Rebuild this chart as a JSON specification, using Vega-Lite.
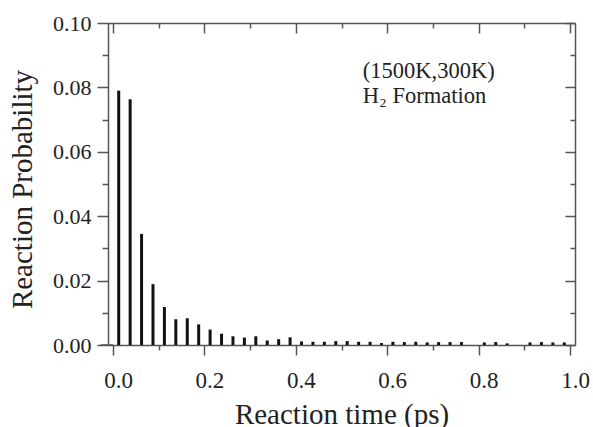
{
  "$schema": "https://vega.github.io/schema/vega-lite/v6.json",
  "width": 467,
  "height": 322,
  "autosize": {"type": "none"},
  "padding": {"left": 108, "top": 23, "right": 18, "bottom": 82},
  "background": "white",
  "config": {"view": {"stroke": null}, "font": "Liberation Serif"},
  "datasets": {
    "bars": [
      {"t": 0.0125, "p": 0.0790}, {"t": 0.0375, "p": 0.0763}, {"t": 0.0625, "p": 0.0345}, {"t": 0.0875, "p": 0.0189},
      {"t": 0.1125, "p": 0.0118}, {"t": 0.1375, "p": 0.0080}, {"t": 0.1625, "p": 0.0083}, {"t": 0.1875, "p": 0.0064},
      {"t": 0.2125, "p": 0.0048}, {"t": 0.2375, "p": 0.0035}, {"t": 0.2625, "p": 0.0027}, {"t": 0.2875, "p": 0.0023},
      {"t": 0.3125, "p": 0.0027}, {"t": 0.3375, "p": 0.0014}, {"t": 0.3625, "p": 0.0018}, {"t": 0.3875, "p": 0.0024},
      {"t": 0.4125, "p": 0.0011}, {"t": 0.4375, "p": 0.0010}, {"t": 0.4625, "p": 0.0010}, {"t": 0.4875, "p": 0.0012},
      {"t": 0.5125, "p": 0.0012}, {"t": 0.5375, "p": 0.0010}, {"t": 0.5625, "p": 0.0010}, {"t": 0.5875, "p": 0.0006},
      {"t": 0.6125, "p": 0.0010}, {"t": 0.6375, "p": 0.0009}, {"t": 0.6625, "p": 0.0010}, {"t": 0.6875, "p": 0.0008},
      {"t": 0.7125, "p": 0.0009}, {"t": 0.7375, "p": 0.0009}, {"t": 0.7625, "p": 0.0009}, {"t": 0.7875, "p": 0.0},
      {"t": 0.8125, "p": 0.0008}, {"t": 0.8375, "p": 0.0009}, {"t": 0.8625, "p": 0.0005}, {"t": 0.8875, "p": 0.0},
      {"t": 0.9125, "p": 0.0008}, {"t": 0.9375, "p": 0.0009}, {"t": 0.9625, "p": 0.0008}, {"t": 0.9875, "p": 0.0008}
    ],
    "notes": [
      {"t": 0.5467, "p": 0.0828, "label": "(1500K,300K)"},
      {"t": 0.5467, "p": 0.0751, "label": "H₂ Formation"}
    ]
  },
  "layer": [
    {
      "data": {"name": "bars"},
      "mark": {"type": "bar", "size": 3, "color": "#111"},
      "encoding": {
        "x": {
          "field": "t", "type": "quantitative",
          "scale": {"domain": [0, 1], "nice": false, "zero": false},
          "axis": {
            "orient": "bottom",
            "title": "Reaction time (ps)",
            "values": [0, 0.1, 0.2, 0.3, 0.4, 0.5, 0.6, 0.7, 0.8, 0.9, 1.0],
            "labelExpr": "(round(datum.value*10) % 2 == 0) ? format(datum.value, '.1f') : ''",
            "tickSize": {"condition": {"test": "round(datum.value*10) % 2 != 0", "value": 5}, "value": 10},
            "tickWidth": 1.5, "tickColor": "#555",
            "domainColor": "#555", "domainWidth": 1.5,
            "labelFont": "Liberation Serif", "labelFontSize": 23, "labelColor": "#222",
            "labelPadding": 14, "labelFlush": false, "labelOverlap": false, "labelOffset": 5,
            "titleFont": "Liberation Serif", "titleFontSize": 29, "titleFontWeight": "normal", "titleColor": "#222",
            "titleBaseline": "alphabetic", "titleY": 78, "grid": false
          }
        },
        "y": {
          "field": "p", "type": "quantitative",
          "scale": {"domain": [0, 0.1], "nice": false},
          "axis": {
            "orient": "left",
            "title": "Reaction Probability",
            "values": [0, 0.01, 0.02, 0.03, 0.04, 0.05, 0.06, 0.07, 0.08, 0.09, 0.1],
            "labelExpr": "(round(datum.value*100) % 2 == 0) ? format(datum.value, '.2f') : ''",
            "tickSize": {"condition": {"test": "round(datum.value*100) % 2 != 0", "value": 6}, "value": 11},
            "tickWidth": 1.5, "tickColor": "#555",
            "domainColor": "#555", "domainWidth": 1.5,
            "labelFont": "Liberation Serif", "labelFontSize": 22, "labelColor": "#222",
            "labelPadding": 6, "labelOverlap": false,
            "titleFont": "Liberation Serif", "titleFontSize": 29, "titleFontWeight": "normal", "titleColor": "#222",
            "titleAngle": 270, "titleBaseline": "alphabetic", "titleAlign": "center", "titleX": -77, "titleY": 166,
            "grid": false
          }
        }
      }
    },
    {
      "data": {"values": [{"a": -0.027, "b": 0, "y": 0}]},
      "mark": {"type": "rule", "color": "#555", "strokeWidth": 1.5},
      "encoding": {
        "x": {"field": "a", "type": "quantitative", "axis": null},
        "x2": {"field": "b"},
        "y": {"field": "y", "type": "quantitative", "axis": null}
      }
    },
    {
      "data": {"name": "notes"},
      "mark": {"type": "text", "align": "left", "baseline": "alphabetic", "font": "Liberation Serif", "fontSize": 22.5, "color": "#222"},
      "encoding": {
        "x": {"field": "t", "type": "quantitative", "axis": null},
        "y": {"field": "p", "type": "quantitative", "axis": null},
        "text": {"field": "label"}
      }
    },
    {
      "data": {"name": "bars"},
      "mark": {"type": "point", "opacity": 0},
      "encoding": {
        "x": {
          "field": "t", "type": "quantitative",
          "axis": {
            "orient": "top", "title": null, "labels": false,
            "values": [0, 0.1, 0.2, 0.3, 0.4, 0.5, 0.6, 0.7, 0.8, 0.9, 1.0],
            "tickSize": {"condition": {"test": "round(datum.value*10) % 2 != 0", "value": -5}, "value": -10},
            "tickWidth": 1.5, "tickColor": "#555",
            "domainColor": "#555", "domainWidth": 1.5, "grid": false
          }
        },
        "y": {
          "field": "p", "type": "quantitative",
          "axis": {
            "orient": "right", "title": null, "labels": false,
            "values": [0, 0.01, 0.02, 0.03, 0.04, 0.05, 0.06, 0.07, 0.08, 0.09, 0.1],
            "tickSize": {"condition": {"test": "round(datum.value*100) % 2 != 0", "value": -5}, "value": -10},
            "tickWidth": 1.5, "tickColor": "#555",
            "domainColor": "#555", "domainWidth": 1.5, "grid": false
          }
        }
      }
    }
  ],
  "resolve": {"axis": {"x": "independent", "y": "independent"}}
}
